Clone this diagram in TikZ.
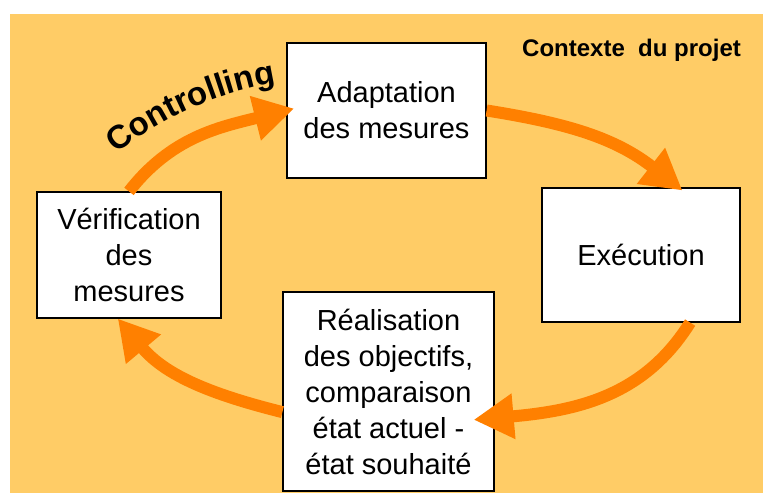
\documentclass[tikz,border=0pt]{standalone}
\usepackage{fontspec}
\setmainfont{Liberation Sans}
\usetikzlibrary{arrows.meta,decorations.text}
\definecolor{bgyellow}{HTML}{FFCC66}
\definecolor{cycleorange}{HTML}{FF8000}

\begin{document}
\begin{tikzpicture}[x=1pt,y=1pt,
  stage/.style={draw=black, line width=1.2pt, fill=white, align=center,
    inner sep=0pt, font=\fontsize{29}{36}\selectfont},
  cyclearrow/.style={draw=cycleorange, line width=12pt,
    -{Triangle[length=40pt,width=43pt]}}]
\useasboundingbox (0,0) rectangle (763,497);
% background panel
\fill[bgyellow] (10,4) rectangle (763,483);

% the four stages of the cycle
\node[stage, minimum width=199pt, minimum height=135pt] (adapt) at (386.5,386.5)
  {Adaptation\\des mesures};
\node[stage, minimum width=198pt, minimum height=134pt] (exec) at (641,242)
  {Exécution};
\node[stage, minimum width=211pt, minimum height=199pt] (real) at (388.5,105.5)
  {Réalisation\\des objectifs,\\comparaison\\état actuel -\\état souhaité};
\node[stage, minimum width=184pt, minimum height=126pt] (verif) at (129,242)
  {Vérification\\des\\mesures};

% context label
\node[anchor=base west, inner sep=0pt, font=\fontsize{24}{28}\selectfont\bfseries]
  (ctx) at (522,440) {Contexte\ \ du projet};

% cycle arrows
\draw[cyclearrow, shorten >=-8pt] (verif.north) to[out=52,in=194] (adapt.west);
\draw[cyclearrow, shorten >=-5pt] (adapt.east) to[out=-9,in=142] (exec.61);
\draw[cyclearrow, shorten >=-21pt] (exec.-54) to[out=-122,in=5] (real.-14.6);
\draw[cyclearrow] (real.191) to[out=166,in=-50] (verif.260);

% curved title over the first arrow
\path[decorate, decoration={text along path, text align=center,
    text={|\fontsize{33}{33}\selectfont\bfseries|Controlling}}]
  ([shift={(146:340pt)}]330,78) arc[start angle=146, end angle=82, radius=340pt];
\end{tikzpicture}
\end{document}
